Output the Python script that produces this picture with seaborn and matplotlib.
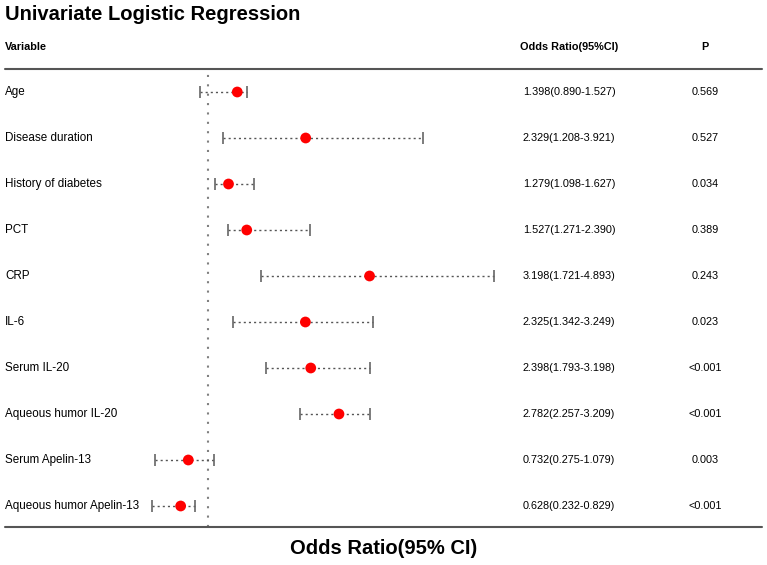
# Univariate logistic regression forest plot
import numpy as np
import matplotlib.pyplot as plt
from matplotlib.lines import Line2D
from matplotlib.transforms import blended_transform_factory
import seaborn as sns
import pandas as pd

variables = ["Age", "Disease duration", "History of diabetes", "PCT", "CRP",
             "IL-6", "Serum IL-20", "Aqueous humor IL-20",
             "Serum Apelin-13", "Aqueous humor Apelin-13"]
odds = [1.398, 2.329, 1.279, 1.527, 3.198, 2.325, 2.398, 2.782, 0.732, 0.628]
lower = [0.890, 1.208, 1.098, 1.271, 1.721, 1.342, 1.793, 2.257, 0.275, 0.232]
upper = [1.527, 3.921, 1.627, 2.390, 4.893, 3.249, 3.198, 3.209, 1.079, 0.829]
p_values = ["0.569", "0.527", "0.034", "0.389", "0.243", "0.023",
            "<0.001", "<0.001", "0.003", "<0.001"]

df = pd.DataFrame({"variable": variables, "OR": odds, "lo": lower, "hi": upper,
                   "p": p_values})
df["row"] = np.arange(len(df))

sns.set_theme(style="white")
plt.rcParams['font.family'] = ['Liberation Sans', 'DejaVu Sans']
plt.rcParams['text.color'] = 'black'

W, H = 767, 565
fig = plt.figure(figsize=(W / 100, H / 100), dpi=100)

# forest axes: px 140..500 horizontally, 70..527 vertically
ax = fig.add_axes([140 / W, 1 - 527 / H, 360 / W, 457 / H])
ax.set_xlim(1 - 68 / 73.5, 1 + 292 / 73.5)
ax.set_ylim((527 - 92) / 46, -(92 - 70) / 46)
ax.axis("off")

ax.axvline(1, color="#808080", ls=(0, (1, 3.5)), lw=1.5)
ax.hlines(df["row"], df["lo"], df["hi"], color="#555555", ls=(0, (1.5, 2.2)), lw=1.0)
ax.plot(df["lo"], df["row"], ls="none", marker="|", ms=9, mew=1.2, color="#666666")
ax.plot(df["hi"], df["row"], ls="none", marker="|", ms=9, mew=1.2, color="#666666")
sns.scatterplot(data=df, x="OR", y="row", ax=ax, color="red", s=60,
                edgecolor="none", zorder=5, legend=False)

tr = blended_transform_factory(fig.transFigure, ax.transData)
for _, r in df.iterrows():
    ax.text(5 / W, r["row"], r["variable"], transform=tr, ha="left", va="center",
            fontsize=8.4)
    ax.text(569 / W, r["row"], f'{r["OR"]:.3f}({r["lo"]:.3f}-{r["hi"]:.3f})',
            transform=tr, ha="center", va="center", fontsize=7.8)
    ax.text(705 / W, r["row"], r["p"], transform=tr, ha="center", va="center",
            fontsize=7.8)

fig.text(5 / W, 1 - 15 / H, "Univariate Logistic Regression", ha="left",
         va="center", fontsize=14.5, fontweight="bold")
fig.text(5 / W, 1 - 47 / H, "Variable", ha="left", va="center",
         fontsize=7.8, fontweight="bold")
fig.text(569 / W, 1 - 47 / H, "Odds Ratio(95%CI)", ha="center", va="center",
         fontsize=7.8, fontweight="bold")
fig.text(705 / W, 1 - 47 / H, "P", ha="center", va="center",
         fontsize=7.8, fontweight="bold")
fig.text(384 / W, 1 - 549 / H, "Odds Ratio(95% CI)", ha="center", va="center",
         fontsize=14.5, fontweight="bold")

for yy in (69, 527):
    fig.add_artist(Line2D([5 / W, 762 / W], [1 - yy / H, 1 - yy / H],
                          color="#555555", lw=1.5))

plt.savefig("out.png", dpi=100)
